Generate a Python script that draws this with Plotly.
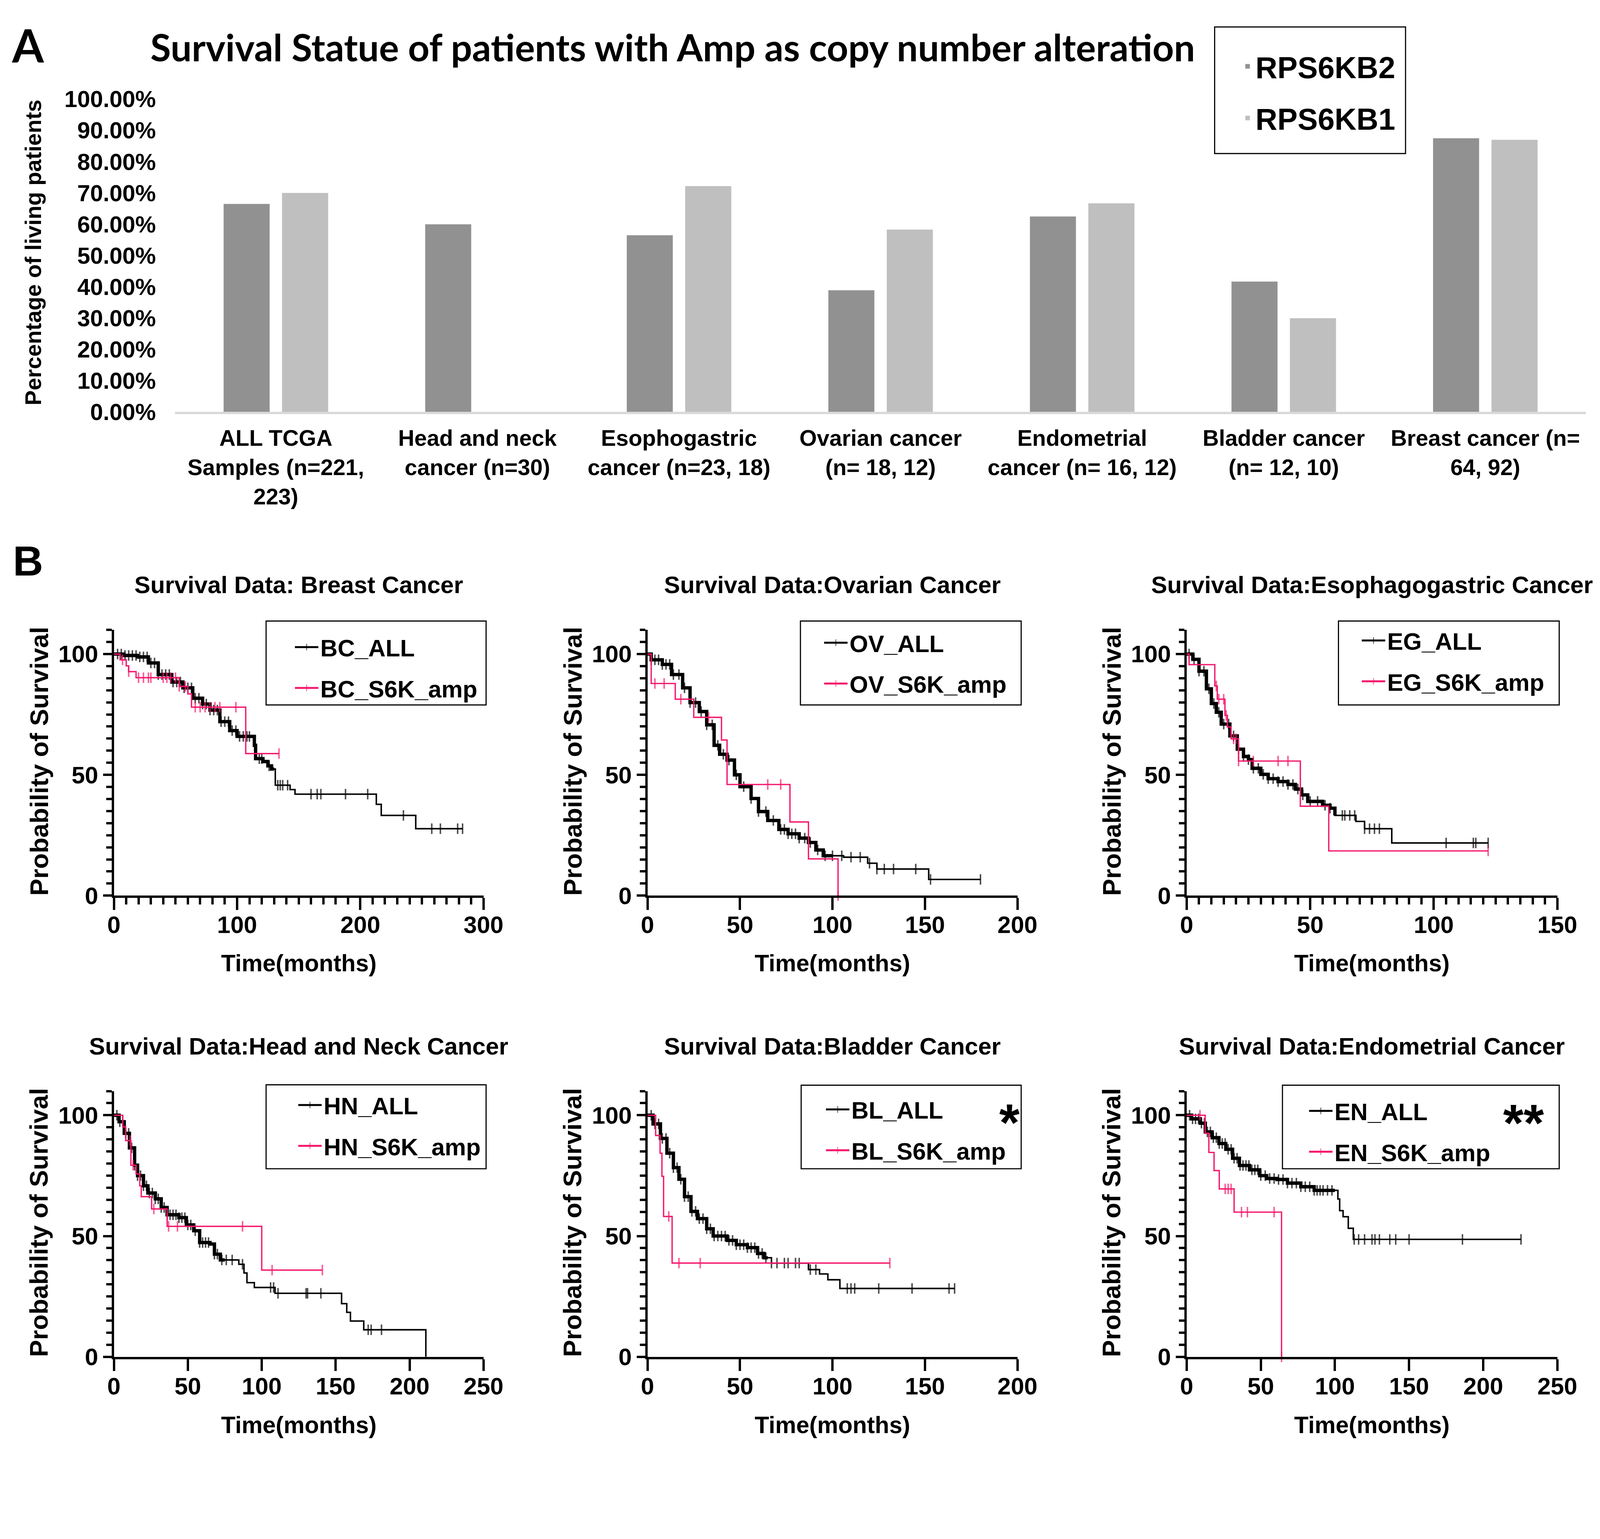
import numpy as np
import plotly.graph_objects as go

W, H = 4342, 3939

# ---------------- panel A data ----------------
categories = ["ALL TCGA", "Head and neck", "Esophogastric", "Ovarian", "Endometrial", "Bladder", "Breast"]
category_labels = [
    "ALL TCGA<br>Samples (n=221,<br>223)",
    "Head and neck<br>cancer (n=30)",
    "Esophogastric<br>cancer (n=23, 18)",
    "Ovarian cancer<br>(n= 18, 12)",
    "Endometrial<br>cancer (n= 16, 12)",
    "Bladder cancer<br>(n= 12, 10)",
    "Breast cancer (n=<br>64, 92)",
]
rps6kb2 = [0.665, 0.600, 0.565, 0.389, 0.625, 0.417, 0.875]
rps6kb1 = [0.700, None, 0.722, 0.583, 0.667, 0.300, 0.870]

# ---------------- panel B data (time in months, survival %) ----------------
bc_all_t = [0, 8, 19, 28, 36, 47, 56, 64, 72, 78, 86, 94, 100, 114, 115, 121, 125, 128, 131, 143, 147, 213, 217, 245, 283]
bc_all_s = [100, 99.4, 98.8, 96.3, 91.5, 88.4, 86.0, 81.7, 79.3, 76.8, 72.0, 68.3, 65.9, 62.2, 56.7, 55.5, 53.7, 52.4, 45.7, 43.9, 42.0, 37.8, 33.2, 27.7, 27.7]
bc_all_cens = [3, 6, 9, 12, 15, 18, 21, 24, 27, 30, 33, 36, 39, 42, 45, 48, 51, 54, 57, 60, 63, 66, 69, 72, 75, 78, 81, 84, 87, 90,
               93, 96, 99, 102, 105, 108, 110, 118, 120, 126, 133, 135, 137, 141, 160, 165, 168, 188, 206, 235, 258, 265, 279, 283]
bc_amp_t = [0, 5, 10, 12, 18, 53, 60, 63, 107, 134]
bc_amp_s = [100, 97.6, 95.1, 92.7, 90.2, 86.6, 83.5, 78.0, 58.8, 58.8]
bc_amp_cens = [7, 12, 20, 24, 28, 30, 40, 43, 46, 50, 53, 58, 66, 70, 74, 78, 82, 86, 99, 134]

ov_all_t = [0, 2, 8, 13, 19, 23, 28, 32, 36, 39, 43, 47, 50, 56, 60, 65, 71, 76, 82, 87, 91, 95, 106, 119, 124, 152, 180]
ov_all_s = [100, 97.6, 95.7, 91.5, 86.0, 79.9, 76.2, 70.7, 62.2, 58.5, 56.1, 50.0, 45.1, 40.2, 34.8, 31.1, 27.4, 25.6, 23.8, 22.0,
            18.9, 16.5, 15.9, 13.4, 11.0, 6.7, 6.7]
ov_all_cens = [2, 4, 6, 8, 10, 12, 14, 17, 20, 23, 26, 29, 32, 35, 38, 41, 44, 48, 52, 56, 60, 64, 68, 72, 74, 76, 78, 80, 82, 85,
               88, 92, 96, 100, 105, 110, 115, 120, 124, 128, 133, 145, 153, 180]
ov_amp_t = [0, 2, 15, 25, 40, 43, 77, 87, 103]
ov_amp_s = [100, 87.8, 81.3, 73.8, 64.4, 46.0, 30.5, 15.2, 0]
ov_amp_cens = [4, 9, 18, 33, 65, 72, 103]

eg_all_t = [0, 2.5, 5, 8, 10, 12, 14, 17.5, 20.5, 23, 25, 26.5, 30, 33, 37, 41, 44, 46.5, 49, 55, 58, 60, 68.5, 72, 83, 122]
eg_all_s = [100, 97.8, 92.9, 85.6, 79.5, 75.9, 71.0, 66.1, 60.6, 57.6, 56.3, 52.7, 50.2, 48.4, 47.2, 46.0, 44.1, 41.7, 39.0, 37.4,
            36.2, 33.2, 30.7, 27.7, 21.8, 21.8]
eg_all_cens = [1, 3, 5, 7, 9, 11, 13, 15, 17, 19, 21, 23, 25, 27, 29, 31, 33, 35, 37, 39, 41, 43, 45, 47, 50, 53, 56, 58, 63, 64,
               66, 68, 72, 74, 76, 78, 105, 116, 117, 122]
eg_amp_t = [0, 1, 11.4, 12.4, 15.5, 16.5, 18, 21, 46, 57.5, 122]
eg_amp_s = [100, 95.6, 86.8, 81.3, 74.6, 69.8, 64.9, 55.7, 37.0, 18.5, 18.5]
eg_amp_cens = [12, 13, 15, 16, 19, 20, 21, 27, 37, 41, 122]

hn_all_t = [0, 3.5, 7, 10.5, 14, 16, 20, 23, 28, 32, 36, 44, 49, 54, 58, 65, 68, 72, 84.5, 88, 90, 95, 109, 154, 157.5, 160, 169, 211]
hn_all_s = [100, 97.3, 92.5, 86.5, 79.3, 75.0, 70.8, 67.8, 65.4, 61.8, 58.8, 57.6, 54.6, 52.2, 47.3, 46.7, 42.5, 40.1, 38.3, 34.7,
            30.7, 28.7, 26.3, 22.0, 18.4, 14.8, 11.2, 0]
hn_all_cens = [2, 4, 6, 8, 10, 12, 14, 16, 18, 20, 22, 24, 26, 28, 30, 32, 34, 36, 38, 40, 42, 44, 46, 48, 50, 52, 55, 58, 60, 62,
               64, 68, 70, 73, 76, 80, 87, 106, 108, 111, 130, 131, 140, 172, 174, 181]
hn_amp_t = [0, 6, 8, 11.5, 15, 17.5, 18.5, 25.5, 36, 100, 141]
hn_amp_s = [100, 95.2, 89.5, 79.3, 75.7, 70.8, 66.3, 61.2, 54.0, 35.9, 35.9]
hn_amp_cens = [11, 13, 27, 37, 43, 87, 107, 141]

bl_all_t = [0, 3, 7, 10.5, 14, 17, 20, 23.5, 27, 32, 35.5, 43, 48, 54, 59.5, 63, 67, 87, 93, 97.5, 104, 166]
bl_all_s = [100, 96.4, 90.4, 84.3, 78.3, 73.5, 66.3, 60.2, 57.2, 53.0, 50.0, 48.2, 46.4, 45.2, 42.8, 41.0, 38.8, 36.1, 34.3, 31.9,
            28.3, 28.3]
bl_all_cens = [2, 4, 6, 8, 10, 12, 14, 16, 18, 20, 22, 24, 26, 28, 30, 32, 34, 36, 38, 40, 42, 44, 46, 48, 50, 52, 54, 56, 58, 60,
               62, 64, 67, 70, 74, 76, 80, 82, 88, 91, 108, 110, 112, 125, 143, 163, 166]
bl_amp_t = [0, 4.4, 6.8, 7.8, 8.7, 13.3, 131]
bl_amp_s = [100, 91.6, 84.3, 74.7, 58.1, 38.8, 38.8]
bl_amp_cens = [11.5, 17, 28.5, 131]

en_all_t = [0, 3.4, 9.2, 12.6, 17.2, 21.8, 26.4, 31, 35.6, 42.4, 49.3, 54, 61, 68, 77, 86, 102, 103.2, 105.5, 109, 112.4, 225.5]
en_all_s = [100, 98.5, 96.7, 93.1, 90.7, 88.3, 85.9, 82.2, 79.2, 77.4, 75.0, 73.8, 73.4, 71.9, 70.4, 68.9, 65.3, 60.5, 58.0, 53.2,
            48.6, 48.6]
en_all_cens = [2, 4, 6, 8, 10, 12, 14, 16, 18, 20, 22, 24, 26, 28, 30, 32, 34, 36, 38, 40, 42, 44, 46, 48, 50, 53, 56, 59, 62, 65,
               68, 71, 74, 77, 80, 83, 86, 88, 90, 92, 95, 98, 113, 116, 120, 125, 127, 130, 137, 141, 150, 186, 225.5]
en_amp_t = [0, 12.5, 15, 18.5, 22, 32, 64]
en_amp_s = [100, 92.5, 84.6, 77.1, 69.5, 59.9, 0]
en_amp_cens = [9, 26, 28, 30, 37, 41, 59, 64]

panel_titles = ["Survival Data: Breast Cancer", "Survival Data:Ovarian Cancer", "Survival Data:Esophagogastric Cancer",
                "Survival Data:Head and Neck Cancer", "Survival Data:Bladder Cancer", "Survival Data:Endometrial Cancer"]
panel_codes = ["BC", "OV", "EG", "HN", "BL", "EN"]
panel_xmax = [300, 200, 150, 250, 200, 250]
panel_dtick = [100, 50, 50, 50, 50, 50]
panel_minor = [10, None, 5, None, None, None]
panel_stars = ["", "", "", "", "*", "**"]
dense_until = [130, 100, 60, 75, 65, 100]   # months where the ALL curve is crowded with censor marks

curves = [
    (bc_all_t, bc_all_s, bc_all_cens, bc_amp_t, bc_amp_s, bc_amp_cens),
    (ov_all_t, ov_all_s, ov_all_cens, ov_amp_t, ov_amp_s, ov_amp_cens),
    (eg_all_t, eg_all_s, eg_all_cens, eg_amp_t, eg_amp_s, eg_amp_cens),
    (hn_all_t, hn_all_s, hn_all_cens, hn_amp_t, hn_amp_s, hn_amp_cens),
    (bl_all_t, bl_all_s, bl_all_cens, bl_amp_t, bl_amp_s, bl_amp_cens),
    (en_all_t, en_all_s, en_all_cens, en_amp_t, en_amp_s, en_amp_cens),
]

DARK = "#919191"
LIGHT = "#bfbfbf"
PINK = "#f5176c"
ARIAL = "Liberation Sans, Arial, sans-serif"
CALIBRI = "Lato, Liberation Sans, sans-serif"

# the page shows the figure slightly enlarged and shifted, so positions are
# measured on the reference and mapped into figure pixels here
S, OX, OY = 0.9584, 21.5, 42.5


def cx(x):
    return S * x - OX


def cy(y):
    return S * y - OY


def px(x):
    return cx(x) / W


def py(y):
    return 1 - cy(y) / H


def sz(v):
    return round(v * S, 1)


def km_points(t, s, cens, tick):
    # censor marks sit on the step curve, so merge them into the path
    t = np.asarray(t, float)
    s = np.asarray(s, float)
    c = np.asarray(cens, float)
    idx = np.clip(np.searchsorted(t, c, side="right") - 1, 0, None)
    x = np.concatenate([t, c])
    y = np.concatenate([s, s[idx]])
    size = np.concatenate([np.zeros(len(t)), np.full(len(c), tick)])
    order = np.argsort(x, kind="stable")
    return x[order], y[order], size[order]


def bold(family, size):
    return dict(family=family, size=sz(size), color="black", weight="bold")


fig = go.Figure()

# ---------------- panel A ----------------
fig.add_trace(go.Bar(x=categories, y=rps6kb2, name="RPS6KB2", marker_color=DARK,
                     xaxis="x", yaxis="y", legend="legend", legendgroup="a"))
fig.add_trace(go.Bar(x=categories, y=rps6kb1, name="RPS6KB1", marker_color=LIGHT,
                     xaxis="x", yaxis="y", legend="legend", legendgroup="b"))

legA_font = sz(81)
legA_h = legA_font * 1.3 + 3
layout = dict(
    width=W, height=H,
    margin=dict(l=0, r=0, t=0, b=0),
    paper_bgcolor="white", plot_bgcolor="white",
    barmode="group", bargap=0.42, bargroupgap=0.21,
    xaxis=dict(domain=[px(471), px(4300)], anchor="y", type="category",
               tickmode="array", tickvals=categories, ticktext=category_labels,
               showline=True, linecolor="#d9d9d9", linewidth=sz(6), ticks="",
               showgrid=False, zeroline=False, ticklabelstandoff=12,
               tickfont=bold(ARIAL, 60)),
    yaxis=dict(domain=[py(1120), py(270)], anchor="x", range=[0, 1], dtick=0.1,
               tickformat=".2%", showline=False, showgrid=False, zeroline=False,
               ticks="", ticklabelstandoff=48, tickfont=bold(ARIAL, 62)),
    legend=dict(x=(cx(3402) - 40) / W, y=1 - (cy(180) - 5 - legA_h / 2) / H, xanchor="left", yanchor="top",
                bgcolor="rgba(0,0,0,0)", borderwidth=0, tracegroupgap=sz(138) - legA_h,
                font=dict(family=ARIAL, size=legA_font, color="black", weight="bold")),
)

shapes = [dict(type="rect", xref="paper", yref="paper", x0=px(3292), x1=px(3810), y0=py(74), y1=py(418),
               line=dict(color="black", width=sz(3)), fillcolor="rgba(0,0,0,0)")]


def note(text, x, y, font, angle=0):
    return dict(text=text, x=px(x), y=py(y), xref="paper", yref="paper", showarrow=False,
                xanchor="center", yanchor="middle", textangle=angle, font=font)


annotations = [
    note("A", 72, 113 + 10, bold(CALIBRI, 122)),
    note("Survival Statue of patients with Amp as copy number alteration", 1821, 122 + 6, bold(CALIBRI, 100)),
    note("Percentage of living patients", 86, 686, bold(ARIAL, 60), -90),
    note("B", 72, 1517 + 8, bold(ARIAL, 112)),
]

# ---------------- panel B ----------------
col_x = [(305, 1308), (1753, 2757), (3216, 4222)]
row_y = [(2434, 1712), (3687, 2965)]          # pixel y of 0 and of 110
title_y = [1590, 2843]
xtitle_y = [2617, 3872]
legend_box = [(718, 1315, 1688, 1916), (2168, 2767, 1688, 1916), (3628, 4227, 1688, 1916),
              (718, 1315, 2948, 3176), (2170, 2767, 2949, 3176), (3476, 4227, 2949, 3176)]
legend_text_x = [864, 2300, 3759, 873, 2305, 3616]
legend_row1_y = [1758, 1746, 1740, 3002, 3014, 3018]
star_xy = [None, None, None, None, (2727, 3040), (4123, 3041)]

legB_font = sz(64)
legB_h = legB_font * 1.3 + 3
ITEMW = 60

for i in range(6):
    r, c = divmod(i, 3)
    n = i + 2
    xa, ya = f"x{n}", f"y{n}"
    leg = f"legend{n}"
    all_t, all_s, all_c, amp_t, amp_s, amp_c = curves[i]
    code = panel_codes[i]

    # crowded early part of the ALL curve drawn heavier, as in the source figure
    t_arr = np.asarray(all_t, float)
    s_arr = np.asarray(all_s, float)
    keep = t_arr <= dense_until[i]
    dx = np.append(t_arr[keep], dense_until[i])
    dy = np.append(s_arr[keep], s_arr[keep][-1])
    fig.add_trace(go.Scatter(x=dx, y=dy, mode="lines", line_shape="hv", showlegend=False, hoverinfo="skip",
                             line=dict(color="black", width=sz(9)), xaxis=xa, yaxis=ya, cliponaxis=False))

    x, y, msz = km_points(all_t, all_s, all_c, sz(20))
    fig.add_trace(go.Scatter(x=x, y=y, mode="lines+markers", name=f"{code}_ALL", line_shape="hv",
                             line=dict(color="black", width=sz(4)), legend=leg, legendgroup=f"{code}a",
                             marker=dict(symbol="line-ns-open", size=msz, color="black",
                                         line=dict(width=sz(4), color="black")),
                             xaxis=xa, yaxis=ya, cliponaxis=False))
    x, y, msz = km_points(amp_t, amp_s, amp_c, sz(20))
    fig.add_trace(go.Scatter(x=x, y=y, mode="lines+markers", name=f"{code}_S6K_amp", line_shape="hv",
                             line=dict(color=PINK, width=sz(3.5)), legend=leg, legendgroup=f"{code}b",
                             marker=dict(symbol="line-ns-open", size=msz, color=PINK,
                                         line=dict(width=sz(4), color=PINK)),
                             xaxis=xa, yaxis=ya, cliponaxis=False))

    x0, x1 = col_x[c]
    y0, y1 = row_y[r]
    xaxis = dict(domain=[px(x0), px(x1)], anchor=ya, range=[0, panel_xmax[i]], tick0=0, dtick=panel_dtick[i],
                 showline=True, linecolor="black", linewidth=sz(6), ticks="outside", ticklen=sz(32),
                 tickwidth=sz(6), tickcolor="black", showgrid=False, zeroline=False, ticklabelstandoff=-14,
                 tickfont=bold(ARIAL, 64))
    if panel_minor[i]:
        xaxis["minor"] = dict(dtick=panel_minor[i], ticks="outside", ticklen=sz(18), tickwidth=sz(6),
                              tickcolor="black")
    yaxis = dict(domain=[py(y0), py(y1)], anchor=xa, range=[0, 110], tick0=0, dtick=50,
                 showline=True, linecolor="black", linewidth=sz(6), ticks="outside", ticklen=sz(23),
                 tickwidth=sz(6), tickcolor="black", showgrid=False, zeroline=False, ticklabelstandoff=0,
                 minor=dict(dtick=5, ticks="outside", ticklen=sz(14), tickwidth=sz(6), tickcolor="black"),
                 tickfont=bold(ARIAL, 64))
    layout[f"xaxis{n}"] = xaxis
    layout[f"yaxis{n}"] = yaxis

    bx0, bx1, by0, by1 = legend_box[i]
    shapes.append(dict(type="rect", xref="paper", yref="paper", x0=px(bx0), x1=px(bx1), y0=py(by0), y1=py(by1),
                       line=dict(color="black", width=sz(3)), fillcolor="rgba(0,0,0,0)"))
    layout[leg] = dict(x=(cx(legend_text_x[i]) - ITEMW - 10) / W,
                       y=1 - (cy(legend_row1_y[i]) - 5 - legB_h / 2) / H,
                       xanchor="left", yanchor="top", itemwidth=ITEMW,
                       bgcolor="rgba(0,0,0,0)", borderwidth=0, tracegroupgap=sz(109) - legB_h,
                       itemsizing="constant",
                       font=dict(family=ARIAL, size=legB_font, color="black", weight="bold"))

    annotations.append(note(panel_titles[i], (x0 + x1) / 2, title_y[r], bold(ARIAL, 64)))
    annotations.append(note("Time(months)", (x0 + x1) / 2, xtitle_y[r], bold(ARIAL, 63)))
    annotations.append(note("Probability of Survival", x0 - 203, (y0 + y1) / 2 - 4, bold(ARIAL, 68), -90))
    if panel_stars[i]:
        sx, sy = star_xy[i]
        annotations.append(note(panel_stars[i], sx + 8, sy + 10, bold(ARIAL, 140)))

layout["shapes"] = shapes
layout["annotations"] = annotations
fig.update_layout(**layout)

fig.write_html("out.html")
